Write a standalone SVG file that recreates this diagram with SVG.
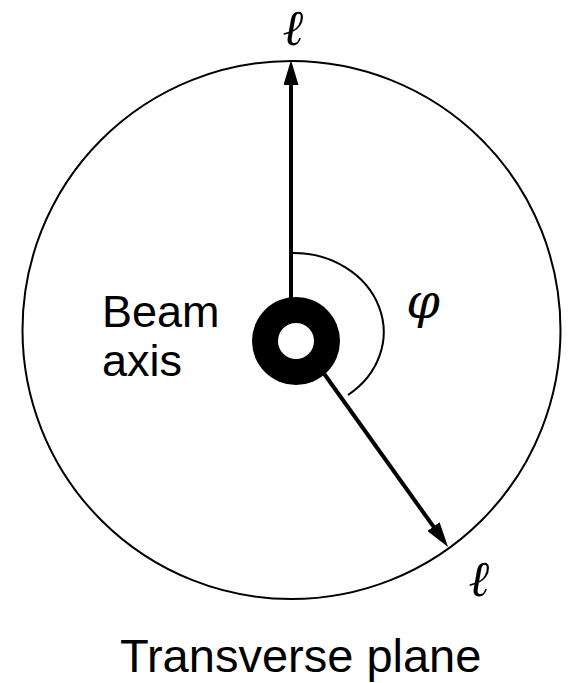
<svg xmlns="http://www.w3.org/2000/svg" width="570" height="683" viewBox="0 0 570 683">
<style>
.lbl{font-family:"Liberation Sans",Arial,sans-serif;fill:#000}
.math{font-family:"DejaVu Serif","Liberation Serif",serif;font-style:italic;fill:#000}
.ell{font-family:"Liberation Serif","DejaVu Serif",serif;font-style:italic;fill:#000}
.arr{stroke:#000;stroke-width:4;fill:none}
</style>
<defs>
<marker id="head" viewBox="0 0 25 15" refX="5" refY="7.5" markerWidth="25" markerHeight="15" markerUnits="userSpaceOnUse" orient="auto">
<path d="M0,0 L25,7.5 L0,15 z" fill="#000"/>
</marker>
</defs>
<rect width="570" height="683" fill="#fff"/>
<g id="plane">
<circle cx="291.5" cy="330" r="269" fill="none" stroke="#000" stroke-width="2"/>
</g>
<g id="connectors">
<line class="arr" x1="291" y1="300" x2="291" y2="80" marker-end="url(#head)"/>
<line class="arr" x1="320" y1="368" x2="436.4" y2="530.7" marker-end="url(#head)"/>
<path d="M293,253 A90,79 0 0 1 348,395" fill="none" stroke="#000" stroke-width="2"/>
</g>
<g id="beam">
<circle cx="296" cy="341" r="44" fill="#000"/>
<circle cx="296" cy="341" r="18" fill="#fff"/>
</g>
<g id="labels">
<text class="ell" x="293" y="45" font-size="50" text-anchor="middle">ℓ</text>
<text class="ell" x="479" y="596" font-size="50" text-anchor="middle">ℓ</text>
<text class="math" x="423" y="318" font-size="48" text-anchor="middle">φ</text>
<text class="lbl" x="102" y="327" font-size="45">Beam</text>
<text class="lbl" x="102" y="376" font-size="45">axis</text>
<text class="lbl" x="120" y="672" font-size="47">Transverse plane</text>
</g>
</svg>
